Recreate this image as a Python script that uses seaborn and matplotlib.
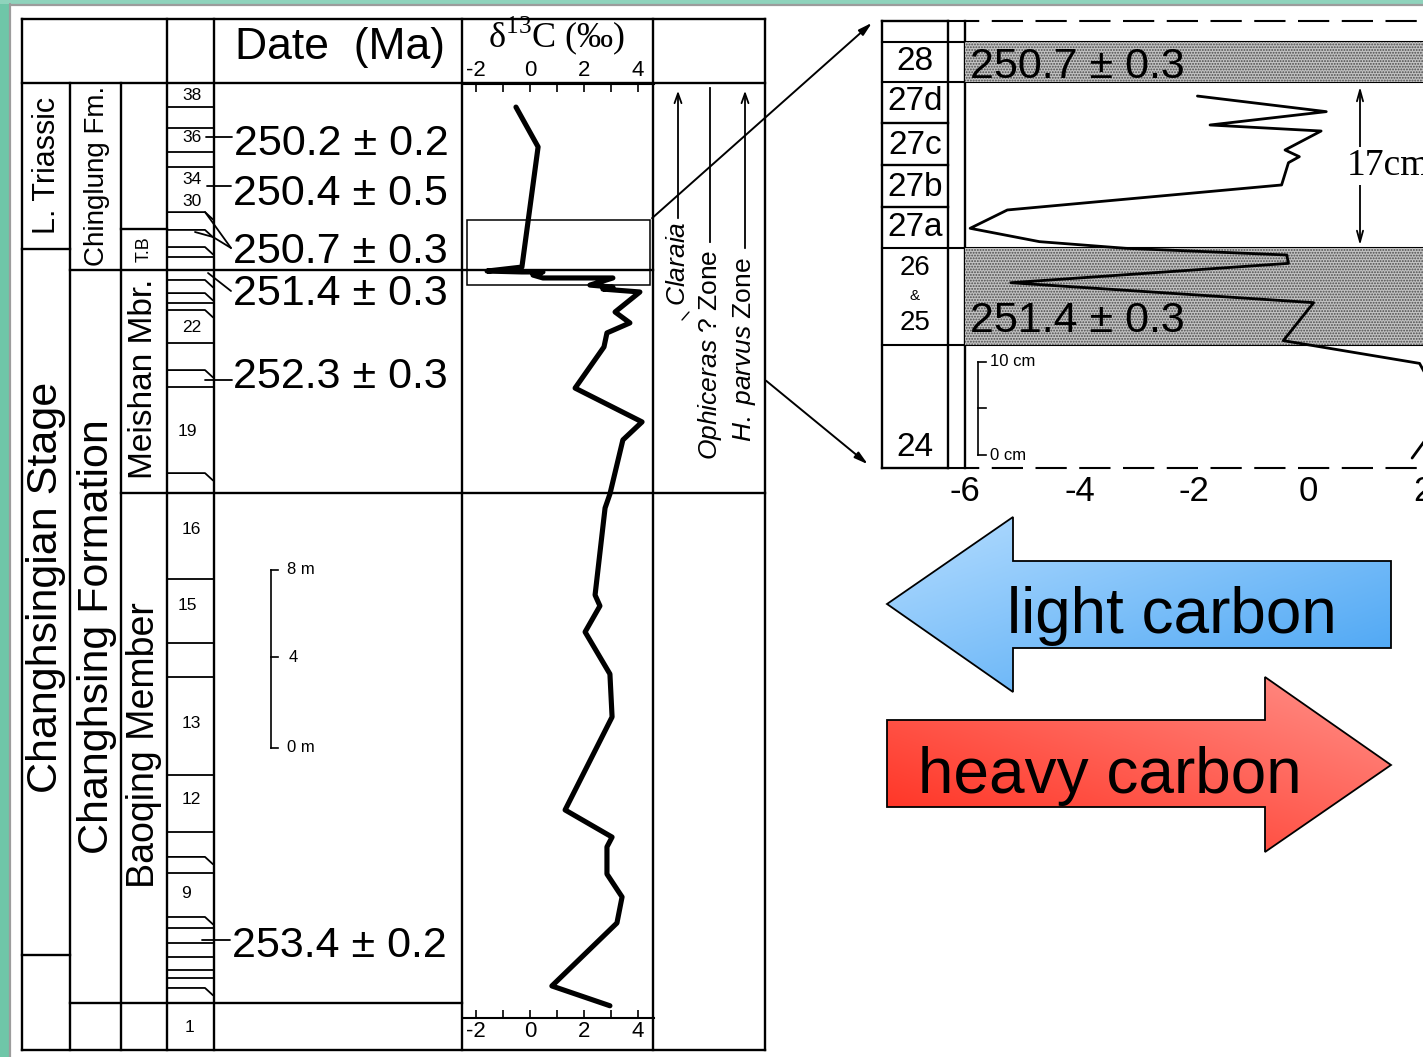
import numpy as np
import pandas as pd
import matplotlib
matplotlib.use("Agg")
import matplotlib.pyplot as plt
import seaborn as sns
from matplotlib.patches import Polygon, Rectangle
from matplotlib.colors import LinearSegmentedColormap

# ---------------- data ----------------
# Meishan section, main delta13C profile (height above section base, m)
main_d13c = [-0.52, 0.30, -0.30, -1.59, -0.30, 0.48, 0.11, 0.48, 3.07, 2.22, 3.07, 2.70,
             4.07, 3.15, 3.70, 2.85, 2.74, 1.67, 4.15, 3.44, 2.96, 2.78, 2.41, 2.59, 2.04,
             2.96, 3.04, 1.30, 3.04, 2.85, 2.85, 3.41, 3.22, 0.81, 2.96]
main_height_m = [40.94, 39.15, 33.75, 33.57, 33.53, 33.53, 33.39, 33.26, 33.26, 32.94, 32.85, 32.76,
                 32.63, 31.73, 31.24, 30.79, 30.16, 28.31, 26.79, 25.98, 23.55, 22.92, 19.01, 18.52, 17.35,
                 15.46, 13.53, 9.35, 8.13, 7.69, 6.47, 5.44, 4.27, 1.44, 0.55]

# detailed profile across the boundary beds (height, cm)
inset_d13c = [-1.94, 0.31, -1.72, 0.22, -0.41, -0.16, -0.35, -0.47, -5.26, -5.91, -4.70, -3.19,
              -0.38, -0.35, -5.20, 0.09, -0.44, 1.94, 2.40, 1.81]
inset_height_cm = [39.57, 37.91, 36.49, 35.85, 33.83, 33.12, 32.48, 30.11, 27.45, 25.50, 24.08, 23.37,
                   22.66, 21.77, 19.71, 17.59, 13.55, 11.13, 6.00, 1.06]

# bed boundaries in the lithological column (m) and whether drawn with a bent end
bed_boundary_m = [40.94, 40.00, 38.92, 38.25, 36.22, 35.42, 34.65, 34.20, 33.17, 32.58, 32.13, 31.82,
                  30.34, 29.12, 28.36, 24.49, 19.73, 16.85, 15.33, 10.92, 8.36, 7.24, 6.52, 4.54,
                  4.04, 3.37, 2.74, 2.16, 1.80, 1.35]
bed_chevron = [0, 0, 0, 0, 1, 1, 1, 0, 1, 1, 0, 1, 0, 1, 0, 1, 0, 0, 0, 0, 0, 1, 0, 1, 0, 0, 0, 0, 0, 1]
bed_numbers = ["38", "36", "34", "30", "22", "19", "16", "15", "13", "12", "9", "1"]

date_labels = ["250.2 \u00b1 0.2", "250.4 \u00b1 0.5", "250.7 \u00b1 0.3",
               "251.4 \u00b1 0.3", "252.3 \u00b1 0.3", "253.4 \u00b1 0.2"]

main_xticks = [-2, 0, 2, 4]
main_minor_xticks = [-1, 1, 3]
inset_xticks = [-6, -4, -2, 0, 2]

inset_beds = ["28", "27d", "27c", "27b", "27a", "26", "&", "25", "24"]
inset_band_cm = [(41.06, 45.32), (13.09, 23.40)]
inset_band_labels = ["250.7 \u00b1 0.3", "251.4 \u00b1 0.3"]

zone_labels = [r"$\mathit{Claraia}$", r"$\mathit{Ophiceras}$ ? Zone", r"$\mathit{H.\ parvus}$ Zone"]
column_labels = ["L. Triassic", "Chinglung Fm.", "T.B", "Meishan Mbr.",
                 "Changhsingian Stage", "Changhsing Formation", "Baoqing Member"]

# ---------------- style ----------------
sns.set_style("white", rc={"axes.edgecolor": "black", "text.color": "black",
                           "xtick.color": "black", "ytick.color": "black"})
plt.rcParams["font.family"] = ["Liberation Sans", "DejaVu Sans"]
plt.rcParams["mathtext.fontset"] = "custom"
plt.rcParams["mathtext.rm"] = "Liberation Serif"
plt.rcParams["mathtext.it"] = "Liberation Sans:italic"
plt.rcParams["mathtext.bf"] = "Liberation Sans:bold"
plt.rcParams["hatch.linewidth"] = 0.9

W, H = 1423, 1057
fig = plt.figure(figsize=(W / 100, H / 100), dpi=100)
fig.patch.set_facecolor("white")


def px_axes(x0, y0, x1, y1, z=1):
    ax = fig.add_axes([x0 / W, 1 - y1 / H, (x1 - x0) / W, (y1 - y0) / H], zorder=z)
    ax.patch.set_alpha(0)
    return ax


ax0 = px_axes(0, 0, W, H, z=0)
ax0.set_axis_off()
LW = 1.7


def seg(x0, y0, x1, y1, lw=LW, **kw):
    ax0.plot([x0, x1], [y0, y1], color="black", lw=lw, solid_capstyle="projecting", **kw)


# background border
ax0.add_patch(Rectangle((0, 0), 9, H, color="#6fc6a8", lw=0, zorder=0))
ax0.add_patch(Rectangle((0, 0), W, 4, color="#8fd3bc", lw=0, zorder=0))
ax0.plot([10, 10], [4, H], color="#9c9c9c", lw=1.6)
ax0.plot([10, W], [4.5, 4.5], color="#9c9c9c", lw=1.6)

# ---------------- main column frame ----------------
for x in [22, 167, 214, 462, 653, 765]:
    seg(x, 19, x, 1050)
for x in [70, 121]:
    seg(x, 83, x, 1050)
seg(22, 19, 765, 19)
seg(22, 83, 765, 83)
seg(22, 1050, 765, 1050)
seg(22, 249, 70, 249)
seg(22, 955, 70, 955)
seg(121, 229, 167, 229)
seg(70, 270, 653, 270)
seg(121, 493, 765, 493)
seg(70, 1003, 462, 1003)

ax0.text(340, 47, "Date  (Ma)", fontsize=32, ha="center", va="center")
ax0.text(557, 36, r"δ$^{13}$C (‰)", fontsize=26, ha="center", va="center",
         family=["Liberation Serif", "DejaVu Serif"])

col_pos = [(47, 165, 22), (97, 176, 20), (144, 249, 13), (144, 379, 24),
           (46, 587, 31), (97, 637, 31), (144, 745, 27)]
for lab, (x, y, fs) in zip(column_labels, col_pos):
    ax0.text(x, y, lab, rotation=90, fontsize=fs, ha="center", va="center")

bed_pos = [(192, 95), (192, 138), (192, 180), (192, 202), (192, 328), (187, 432),
           (191, 530), (187, 605), (191, 723), (191, 800), (186, 893), (190, 1028)]
for lab, (x, y) in zip(bed_numbers, bed_pos):
    ax0.text(x, y, lab, fontsize=12.5, ha="center", va="center")

# date labels with leaders
date_base = [(234, 155), (233, 205), (233, 263), (233, 305), (233, 388), (232, 957)]
for lab, (x, y) in zip(date_labels, date_base):
    ax0.text(x, y, lab, fontsize=31, ha="left", va="baseline")
leaders = [[(206, 137), (232, 137)], [(207, 186), (231, 186)],
           [(205, 212), (213, 223), (231, 248)], [(195, 232), (213, 237), (231, 248)],
           [(208, 273), (231, 291)], [(205, 380), (232, 380)], [(202, 940), (230, 940)]]
for pts in leaders:
    ax0.plot([p[0] for p in pts], [p[1] for p in pts], color="black", lw=1.3)

# scale bar (main)
seg(271, 570, 271, 748, lw=1.2)
for y, lab, x in [(570, "8 m", 287), (657, "4", 289), (748, "0 m", 287)]:
    seg(271, y, 278, y, lw=1.2)
    ax0.text(x, y, lab, fontsize=12, ha="left", va="center")

# zones
ax0.annotate("", xy=(678, 88), xytext=(678, 221),
             arrowprops=dict(arrowstyle="->,head_length=0.7,head_width=0.25", lw=1.3, color="black"))
seg(710, 88, 710, 242, lw=1.3)
ax0.annotate("", xy=(745, 88), xytext=(745, 251),
             arrowprops=dict(arrowstyle="->,head_length=0.7,head_width=0.25", lw=1.3, color="black"))
ax0.plot([682, 689], [320, 312], color="black", lw=1.0)
for lab, (x, y) in zip(zone_labels, [(678, 264), (710, 355), (745, 350)]):
    ax0.text(x, y, lab, rotation=90, fontsize=19, ha="center", va="center")

# zoom box and connecting arrows
ax0.add_patch(Rectangle((467, 220), 183, 65, fill=False, ec="black", lw=1.1, zorder=3))
ax0.annotate("", xy=(874, 21), xytext=(650, 220),
             arrowprops=dict(arrowstyle="-|>,head_length=0.8,head_width=0.22", lw=1.4, color="black"))
ax0.annotate("", xy=(870, 466), xytext=(764, 379),
             arrowprops=dict(arrowstyle="-|>,head_length=0.8,head_width=0.22", lw=1.4, color="black"))

# ---------------- lithological column beds (shares height scale) ----------------
TOP_M = (1018 - 84) / 22.25
ax_col = px_axes(0, 84, W, 1018, z=1)
ax_col.set_xlim(0, W)
ax_col.set_ylim(0, TOP_M)
ax_col.set_axis_off()
for h, c in zip(bed_boundary_m, bed_chevron):
    if c:
        ax_col.plot([167, 205, 213], [h, h, h - 0.33], color="black", lw=1.3)
    else:
        ax_col.plot([167, 214], [h, h], color="black", lw=1.3)

# ---------------- main delta13C curve ----------------
ax_c = px_axes(463, 84, 654, 1018, z=2)
df_main = pd.DataFrame({"d13C": main_d13c, "height": main_height_m})
sns.lineplot(data=df_main, x="d13C", y="height", sort=False, orient="y", estimator=None,
             color="black", lw=3.7, ax=ax_c)
ax_c.set_xlim((463 - 530) / 27, (654 - 530) / 27)
ax_c.set_ylim(0, TOP_M)
ax_c.set_xlabel("")
ax_c.set_ylabel("")
ax_c.set_yticks([])
ax_c.set_xticks(main_xticks)
ax_c.set_xticks(main_minor_xticks, minor=True)
ax_c.set_xticklabels([str(t) for t in main_xticks])
ax_c.tick_params(axis="x", which="both", direction="in", length=6, width=1.2,
                 top=True, bottom=True, labeltop=True, labelbottom=True, labelsize=16, pad=2)
for s in ["left", "right"]:
    ax_c.spines[s].set_visible(False)
for s in ["top", "bottom"]:
    ax_c.spines[s].set_linewidth(1.5)

# ---------------- inset (boundary beds) ----------------
rows = [21, 42, 82, 123, 165, 207, 248, 345, 468]
seg(882, 21, 882, 468)
seg(948, 21, 948, 468)
seg(965, 21, 965, 468)
for y in rows:
    if y in (42, 82, 248, 345):
        seg(882, y, W, y, lw=1.5)
    else:
        seg(882, y, 948, y)
ins_pos = [(915, 62, 24), (915, 102, 24), (915, 145, 24), (915, 187, 24), (915, 228, 24),
           (915, 268, 20), (915, 296, 11), (915, 323, 20), (915, 447, 24)]
for lab, (x, y, fs) in zip(inset_beds, ins_pos):
    ax0.text(x, y, lab, fontsize=fs, ha="center", va="center")
ax0.plot([948, W], [21, 21], color="black", lw=1.5, ls=(0, (15, 6)))
ax0.plot([948, W], [468, 468], color="black", lw=1.5, ls=(0, (15, 6)))

IN_TOP = (468 - 21) / 9.4
ax_in = px_axes(965, 21, W, 468, z=2)
for lo, hi in inset_band_cm:
    ax_in.axhspan(lo, hi, facecolor="#c2c2c2", edgecolor="#4a4a4a", hatch="......", lw=0, zorder=0)
df_in = pd.DataFrame({"d13C": inset_d13c, "height": inset_height_cm})
sns.lineplot(data=df_in, x="d13C", y="height", sort=False, orient="y", estimator=None,
             color="black", lw=2.0, ax=ax_in)
ax_in.set_xlim(-6, (W - 1309) / 57.4)
ax_in.set_ylim(0, IN_TOP)
ax_in.set_xlabel("")
ax_in.set_ylabel("")
ax_in.set_yticks([])
ax_in.set_xticks(inset_xticks)
ax_in.set_xticklabels([str(t) for t in inset_xticks])
ax_in.tick_params(axis="x", direction="in", length=10, width=1.2, labelsize=25, pad=5)
for s in ax_in.spines.values():
    s.set_visible(False)

for lab, y in zip(inset_band_labels, [78, 332]):
    ax_in.text(970, y, lab, fontsize=31, ha="left", va="baseline", zorder=4,
               transform=ax0.transData)

# inset scale bar
seg(978, 362, 978, 455, lw=1.2)
for y in [362, 408, 455]:
    seg(978, y, 986, y, lw=1.2)
ax0.text(990, 362, "10 cm", fontsize=12, ha="left", va="center")
ax0.text(990, 455, "0 cm", fontsize=12, ha="left", va="center")

# 17 cm bracket
ax0.annotate("", xy=(1360, 84), xytext=(1360, 248),
             arrowprops=dict(arrowstyle="<->,head_length=0.8,head_width=0.22", lw=1.3, color="black"))
ax0.text(1347, 166, "17cm", fontsize=27, ha="left", va="center",
         family=["Liberation Serif", "DejaVu Serif"],
         bbox=dict(fc="white", ec="none", pad=1), zorder=5)


# ---------------- gradient arrows ----------------
def gradient_arrow(ax, verts, colors, start):
    poly = Polygon(verts, closed=True, fc="none", ec="black", lw=1.3, zorder=6)
    ax.add_patch(poly)
    xs = [v[0] for v in verts]
    ys = [v[1] for v in verts]
    x0, x1, y0, y1 = min(xs), max(xs), min(ys), max(ys)
    gx, gy = np.meshgrid(np.linspace(0, 1, 200), np.linspace(0, 1, 200))
    t = (gx + gy) / 2 if start == "tl" else (gx + (1 - gy)) / 2
    cmap = LinearSegmentedColormap.from_list("g", colors)
    im = ax.imshow(t, cmap=cmap, extent=(x0, x1, y1, y0), origin="upper", aspect="auto",
                   zorder=5, interpolation="bilinear")
    im.set_clip_path(poly)


blue = [(887, 604), (1013, 517), (1013, 561), (1391, 561), (1391, 648), (1013, 648), (1013, 692)]
red = [(887, 720), (1265, 720), (1265, 677), (1391, 765), (1265, 852), (1265, 807), (887, 807)]
gradient_arrow(ax0, blue, ["#b5ddff", "#44a2f3"], "tl")
gradient_arrow(ax0, red, ["#ff2a1a", "#ff918a"], "bl")
ax0.text(1007, 633, "light carbon", fontsize=46, ha="left", va="baseline", zorder=7)
ax0.text(918, 793, "heavy carbon", fontsize=46, ha="left", va="baseline", zorder=7)

ax0.set_xlim(0, W)
ax0.set_ylim(H, 0)

fig.savefig("out.png", dpi=100, facecolor="white")
